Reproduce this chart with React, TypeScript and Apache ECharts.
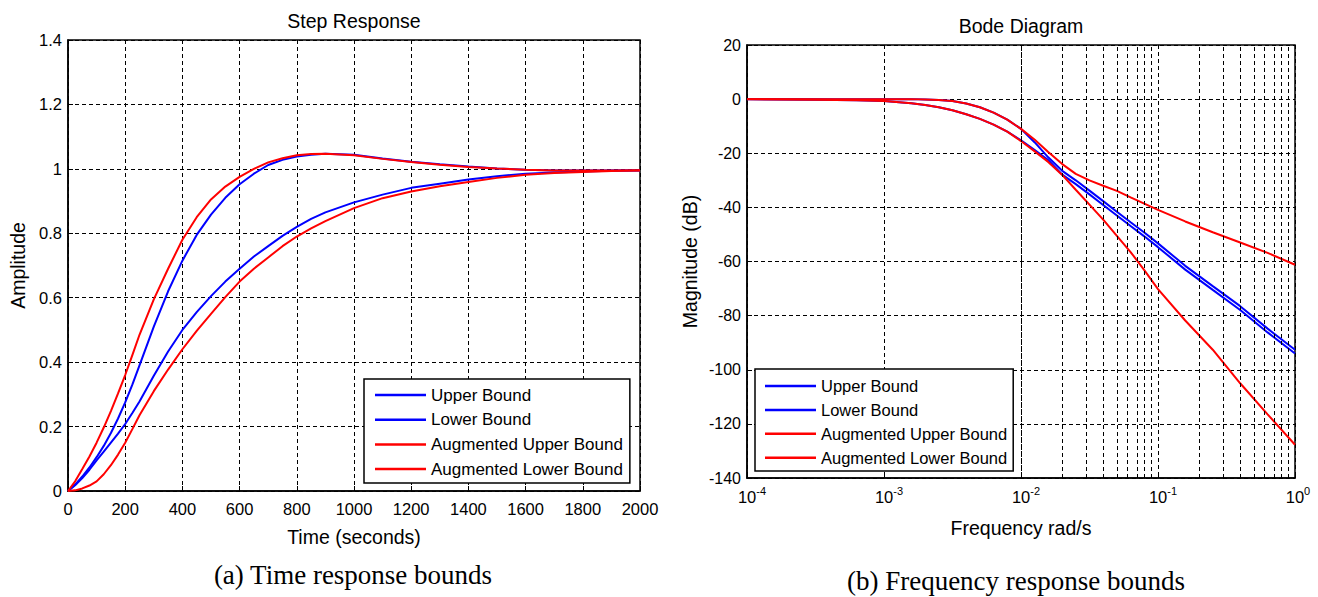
import React, { useEffect, useRef } from 'react';
import * as echarts from 'echarts';

// ---------- Step response data ----------
const timeS = [0, 25, 50, 75, 100, 125, 150, 175, 200, 225, 250, 300, 350, 400, 450, 500, 550, 600, 650, 700, 750, 800, 850, 900, 1000, 1100, 1200, 1300, 1400, 1500, 1600, 1700, 1800, 1900, 2000];
const stepUpper = [0, 0.02, 0.045, 0.073, 0.105, 0.14, 0.18, 0.225, 0.275, 0.33, 0.39, 0.51, 0.62, 0.715, 0.795, 0.858, 0.91, 0.952, 0.985, 1.012, 1.028, 1.038, 1.044, 1.047, 1.044, 1.032, 1.022, 1.014, 1.007, 1.001, 0.997, 0.995, 0.995, 0.995, 0.995];
const stepLower = [0, 0.018, 0.04, 0.066, 0.095, 0.122, 0.15, 0.178, 0.208, 0.242, 0.278, 0.358, 0.433, 0.5, 0.555, 0.605, 0.65, 0.69, 0.728, 0.76, 0.792, 0.82, 0.845, 0.865, 0.896, 0.92, 0.941, 0.954, 0.967, 0.977, 0.985, 0.989, 0.992, 0.994, 0.996];
const stepAugUpper = [0, 0.03, 0.068, 0.107, 0.15, 0.197, 0.248, 0.303, 0.36, 0.422, 0.485, 0.595, 0.69, 0.78, 0.85, 0.905, 0.945, 0.975, 1.0, 1.02, 1.033, 1.042, 1.046, 1.047, 1.042, 1.031, 1.021, 1.013, 1.006, 1.001, 0.997, 0.995, 0.995, 0.995, 0.995];
const stepAugLower = [0, 0.002, 0.008, 0.017, 0.03, 0.052, 0.08, 0.113, 0.15, 0.192, 0.235, 0.31, 0.377, 0.44, 0.497, 0.55, 0.602, 0.65, 0.69, 0.725, 0.76, 0.79, 0.815, 0.838, 0.878, 0.909, 0.93, 0.946, 0.959, 0.972, 0.982, 0.987, 0.99, 0.993, 0.996];

// ---------- Bode data ----------
const freq = [0.0001, 0.000316, 0.000631, 0.001, 0.00158, 0.002, 0.00251, 0.00316, 0.00398, 0.00501, 0.00631, 0.00794, 0.01, 0.0126, 0.0158, 0.02, 0.0251, 0.0316, 0.0398, 0.0501, 0.0631, 0.0794, 0.1, 0.158, 0.251, 0.398, 0.631, 1];
const bodeUpper = [0, 0, 0, 0, 0, -0.1, -0.3, -0.7, -1.6, -3.0, -5.0, -7.6, -11, -16, -21.5, -26.5, -30, -33.8, -37.7, -41.6, -45.5, -49.3, -53.3, -61.6, -69.1, -76.5, -84.8, -92.6];
const bodeLower = [0, -0.2, -0.4, -0.7, -1.5, -2.2, -3.0, -4.1, -5.6, -7.3, -9.4, -12, -15.2, -18.8, -22.5, -27.9, -31.4, -35.2, -39.1, -43, -46.9, -50.7, -54.7, -63, -70.5, -77.9, -86.2, -94.0];
const bodeAugUpper = [0, 0, 0, 0, 0, -0.1, -0.3, -0.7, -1.6, -3.0, -5.0, -7.6, -11, -15, -19.5, -24, -27.6, -30, -32, -33.9, -36.3, -38.6, -40.9, -45.2, -49.2, -53, -56.8, -61.2];
const bodeAugLower = [0, -0.2, -0.4, -0.7, -1.5, -2.2, -3.0, -4.1, -5.6, -7.3, -9.4, -12, -15.5, -19.3, -23.2, -28, -33.5, -39, -44.5, -50.5, -56.5, -63.2, -70.2, -81.8, -92.6, -105, -116.5, -127.7];

// minor log grid lines (2..9 x 10^n)
const minorFreq = [
  0.0002, 0.0003, 0.0004, 0.0005, 0.0006, 0.0007, 0.0008, 0.0009,
  0.002, 0.003, 0.004, 0.005, 0.006, 0.007, 0.008, 0.009,
  0.02, 0.03, 0.04, 0.05, 0.06, 0.07, 0.08, 0.09,
  0.2, 0.3, 0.4, 0.5, 0.6, 0.7, 0.8, 0.9,
];

const seriesNames = ['Upper Bound', 'Lower Bound', 'Augmented Upper Bound', 'Augmented Lower Bound'];
const seriesColors = ['#0000ff', '#0000ff', '#ff0000', '#ff0000'];

const SANS = 'Liberation Sans';
const SERIF = 'Liberation Serif';

export default function App() {
  const ref = useRef<HTMLDivElement>(null);
  useEffect(() => {
    if (!ref.current) return;
    const chart = echarts.init(ref.current, undefined, { renderer: 'svg' });
    const gridLine = { show: true, lineStyle: { color: '#000', width: 1, type: [4, 3] } };
    const stepSets = [stepUpper, stepLower, stepAugUpper, stepAugLower];
    const bodeSets = [bodeUpper, bodeLower, bodeAugUpper, bodeAugLower];
    const legendBase = {
      orient: 'vertical',
      data: seriesNames.map((n, i) => ({ name: n, icon: 'rect', itemStyle: { color: seriesColors[i] } })),
      itemWidth: 51,
      itemHeight: 2.5,
      borderColor: '#000',
      borderWidth: 1.5,
      backgroundColor: '#fff',
      selectedMode: false,
      borderRadius: 0,
    };
    const option: any = {
      animation: false,
      backgroundColor: '#fff',
      textStyle: { fontFamily: SANS, color: '#000' },
      grid: [
        { left: 68, right: 1318 - 640, top: 40, bottom: 597 - 491, show: true, borderColor: '#000', borderWidth: 1.5, backgroundColor: 'transparent' },
        { left: 747, right: 1318 - 1295, top: 45, bottom: 597 - 478, show: true, borderColor: '#000', borderWidth: 1.5, backgroundColor: 'transparent' },
      ],
      xAxis: [
        {
          gridIndex: 0, type: 'value', min: 0, max: 2000, interval: 200,
          name: 'Time (seconds)', nameLocation: 'middle', nameGap: 36,
          nameTextStyle: { fontSize: 19.5, color: '#000', fontFamily: SANS },
          axisLine: { onZero: false, lineStyle: { color: '#000', width: 1.5 } },
          axisTick: { inside: true, length: 5, lineStyle: { color: '#000' } },
          axisLabel: { fontSize: 16.5, color: '#000', margin: 9, fontFamily: SANS, formatter: (v: number) => String(v) },
          splitLine: gridLine,
        },
        {
          gridIndex: 1, type: 'log', logBase: 10, min: 0.0001, max: 1,
          name: 'Frequency rad/s', nameLocation: 'middle', nameGap: 40,
          nameTextStyle: { fontSize: 19.5, color: '#000', fontFamily: SANS },
          axisLine: { onZero: false, lineStyle: { color: '#000', width: 1.5 } },
          axisTick: { inside: true, length: 5, lineStyle: { color: '#000' } },
          axisLabel: {
            margin: 7,
            color: '#000',
            formatter: (v: number) => {
              const e = Math.round(Math.log10(v));
              const s = String(e);
              return `{${s.length > 1 ? 'b2' : 'b1'}|10}{s|${s}}`;
            },
            rich: {
              b1: { fontSize: 16.5, fontFamily: SANS, color: '#000', verticalAlign: 'bottom', lineHeight: 20, padding: [0, 0, 0, 6] },
              b2: { fontSize: 16.5, fontFamily: SANS, color: '#000', verticalAlign: 'bottom', lineHeight: 20, padding: [0, 0, 0, 10] },
              s: { fontSize: 11, fontFamily: SANS, color: '#000', verticalAlign: 'top', lineHeight: 20 },
            },
          },
          splitLine: gridLine,
        },
      ],
      yAxis: [
        {
          gridIndex: 0, type: 'value', min: 0, max: 1.4, interval: 0.2,
          name: 'Amplitude', nameLocation: 'middle', nameGap: 40,
          nameTextStyle: { fontSize: 19.5, color: '#000', fontFamily: SANS },
          axisLine: { show: true, onZero: false, lineStyle: { color: '#000', width: 1.5 } },
          axisTick: { show: true, inside: true, length: 5, lineStyle: { color: '#000' } },
          axisLabel: { fontSize: 16.5, color: '#000', margin: 6, fontFamily: SANS },
          splitLine: gridLine,
        },
        {
          gridIndex: 1, type: 'value', min: -140, max: 20, interval: 20,
          name: 'Magnitude (dB)', nameLocation: 'middle', nameGap: 47,
          nameTextStyle: { fontSize: 19.5, color: '#000', fontFamily: SANS },
          axisLine: { show: true, onZero: false, lineStyle: { color: '#000', width: 1.5 } },
          axisTick: { show: true, inside: true, length: 5, lineStyle: { color: '#000' } },
          axisLabel: { fontSize: 16, color: '#000', margin: 6, fontFamily: SANS },
          splitLine: gridLine,
        },
      ],
      legend: [
        {
          ...legendBase, left: 364, top: 379, itemGap: 7.7, padding: [7.5, 7, 5.5, 11],
          textStyle: { fontSize: 17, color: '#000', fontFamily: SANS },
        },
        {
          ...legendBase, left: 755, top: 369, itemGap: 6.9, padding: [8.5, 6, 4.8, 10],
          textStyle: { fontSize: 16.5, color: '#000', fontFamily: SANS },
        },
      ],
      graphic: [
        { type: 'text', x: 354, y: 21, style: { text: 'Step Response', fill: '#000', font: `19.5px ${SANS}`, textAlign: 'center', textVerticalAlign: 'middle' } },
        { type: 'text', x: 1021, y: 26, style: { text: 'Bode Diagram', fill: '#000', font: `19.5px ${SANS}`, textAlign: 'center', textVerticalAlign: 'middle' } },
        { type: 'text', x: 353, y: 575, style: { text: '(a) Time response bounds', fill: '#000', font: `27px ${SERIF}`, textAlign: 'center', textVerticalAlign: 'middle' } },
        { type: 'text', x: 1016, y: 581, style: { text: '(b) Frequency response bounds', fill: '#000', font: `27px ${SERIF}`, textAlign: 'center', textVerticalAlign: 'middle' } },
      ],
      series: [
        {
          name: 'minor-grid', type: 'line', xAxisIndex: 1, yAxisIndex: 1, data: [], z: 1, silent: true,
          markLine: {
            silent: true, symbol: ['none', 'none'], label: { show: false },
            lineStyle: { color: '#000', width: 1, type: [4, 3] },
            emphasis: { disabled: true },
            data: minorFreq.map((f) => ({ xAxis: f })),
          },
        },
        ...seriesNames.map((n, i) => ({
          name: n, type: 'line', xAxisIndex: 0, yAxisIndex: 0, symbol: 'none', showSymbol: false, z: 3,
          lineStyle: { color: seriesColors[i], width: 2 }, itemStyle: { color: seriesColors[i] },
          data: timeS.map((t, k) => [t, stepSets[i][k]]),
        })),
        ...seriesNames.map((n, i) => ({
          name: n, type: 'line', xAxisIndex: 1, yAxisIndex: 1, symbol: 'none', showSymbol: false, z: 3,
          lineStyle: { color: seriesColors[i], width: 2 }, itemStyle: { color: seriesColors[i] },
          data: freq.map((f, k) => [f, bodeSets[i][k]]),
        })),
      ],
    };
    chart.setOption(option);
    return () => chart.dispose();
  }, []);
  return <div ref={ref} style={{ position: 'fixed', left: 0, top: 0, width: 1318, height: 597, background: '#fff' }} />;
}
